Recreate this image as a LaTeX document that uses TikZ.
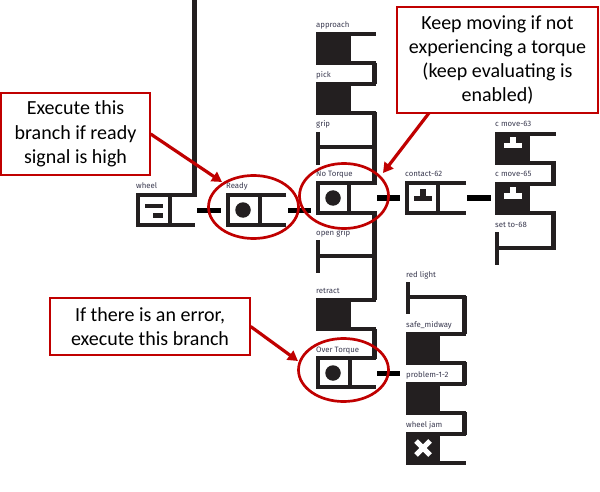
\documentclass[tikz,border=0pt]{standalone}
\usepackage{fontspec}
\setmainfont{Carlito}
\newfontfamily\labfont{Fira Sans}
\usetikzlibrary{shapes.geometric,arrows.meta}
\definecolor{ink}{HTML}{231F20}
\definecolor{redline}{HTML}{C00000}
\definecolor{labcol}{HTML}{3A3A50}
\tikzset{
  x=1pt,y=-1pt,
  stroke/.style={draw=ink,line width=4.4pt,line cap=butt,line join=miter},
  solid block/.style={fill=ink,draw=none},
  lab/.style={anchor=base west,inner sep=0pt,font=\labfont\fontsize{7.8}{9}\selectfont,text=labcol},
  wire/.style={draw=black,line width=5pt},
  callout/.style={draw=redline,line width=1.3pt,fill=white,align=center,inner sep=0pt,
    font=\fontsize{20}{24.3}\selectfont,text=black},
  loop/.style={shape=ellipse,draw=redline,line width=2.7pt,inner sep=0pt},
  pointer/.style={draw=redline,line width=3.2pt,-{Triangle[length=10pt,width=11pt]}},
  dot/.style={shape=circle,fill=ink,inner sep=0pt,minimum size=15.5pt},
}
% #1 left #2 top #3 divider #4 arm end #5 bottom (outer edges)
\newcommand{\openblock}[5]{%
  \draw[stroke] (#4,#2+2.2) -- (#1+2.2,#2+2.2) -- (#1+2.2,#5-2.2) -- (#4,#5-2.2);
  \draw[stroke] (#3,#2+2.2) -- (#3,#5-2.2);}
\newcommand{\fullblock}[5]{%
  \fill[solid block] (#1,#2) rectangle (#3,#5);
  \draw[stroke] (#3,#2+2.2) -- (#4,#2+2.2);
  \draw[stroke] (#3,#5-2.2) -- (#4,#5-2.2);}
% #1 left #2 top #3 bottom #4 arm y #5 arm end
\newcommand{\setblock}[5]{%
  \draw[stroke] (#1+2.2,#2) -- (#1+2.2,#3);
  \draw[stroke] (#1+2.2,#4) -- (#5,#4);}
% #1 x centre #2 y of base centre #3 colour
\newcommand{\tee}[3]{%
  \fill[#3] (#1-9,#2-2.5) rectangle (#1+9,#2+2.5);
  \fill[#3] (#1-3,#2-9) rectangle (#1+3,#2);}
\begin{document}
\begin{tikzpicture}
\useasboundingbox (0,0) rectangle (600,492);
\fill[white] (0,0) rectangle (600,492);

% trunks
\draw[stroke,line width=5pt] (194,0) -- (194,197);
\draw[stroke,line width=5pt] (374,63) -- (374,84);
\draw[stroke,line width=5pt] (374,112) -- (374,185);
\draw[stroke,line width=5pt] (374,211) -- (374,300);
\draw[stroke,line width=5pt] (374,329) -- (374,359);
\draw[stroke,line width=5pt] (464,296) -- (464,334);
\draw[stroke,line width=5pt] (464,362) -- (464,385);
\draw[stroke,line width=5pt] (464,412) -- (464,435);
\draw[stroke,line width=5pt] (553,162) -- (553,184);
\draw[stroke,line width=5pt] (553,212) -- (553,248);

% wheel
\openblock{136}{193}{170}{195}{227}
\fill[ink] (145,203.5) rectangle (163,208);
\fill[ink] (153,213) rectangle (163,218);
\node[lab] (wheel) at (136,189) {wheel};
% Ready
\openblock{226}{193}{260}{286}{227}
\node[dot] (readydot) at (243,210) {};
\node[lab] (ready) at (226,189) {Ready};
% No Torque
\openblock{316}{181}{349}{376}{215}
\node[dot] (notorquedot) at (333,198) {};
\node[lab] (notorque) at (316,177) {No Torque};
% contact-62
\openblock{405}{181}{438}{466}{215}
\tee{423}{198.5}{ink}
\node[lab] (contact) at (405,177) {contact-62};
% Over Torque
\openblock{316}{356}{350}{376}{389}
\node[dot] (overdot) at (333,373) {};
\node[lab] (over) at (316,352) {Over Torque};

% centre column
\fullblock{316}{32}{351}{376}{65}
\node[lab] (approach) at (316,28) {approach};
\fullblock{316}{82}{351}{376}{115}
\node[lab] (pick) at (316,78) {pick};
\setblock{316}{132}{165}{147}{376}
\node[lab] (grip) at (316,127) {grip};
\setblock{316}{240}{273}{256}{376}
\node[lab] (opengrip) at (316,235) {open grip};
\fullblock{316}{298}{351}{376}{331}
\node[lab] (retract) at (316,293) {retract};

% lower right column
\setblock{406}{282}{314}{297}{466}
\node[lab] (redlight) at (406,277) {red light};
\fullblock{406}{332}{440}{466}{365}
\node[lab] (safe) at (406,327) {safe\_midway};
\fullblock{406}{382}{440}{466}{415}
\node[lab] (problem) at (406,377) {problem-1-2};
\fullblock{406}{432}{440}{466}{465}
\draw[white,line width=5pt] (416,441) -- (430,455) (430,441) -- (416,455);
\node[lab] (wheeljam) at (406,427) {wheel jam};

% upper right column
\fullblock{495}{132}{530}{556}{165}
\tee{513}{146}{white}
\node[lab] (cmove63) at (495,127) {c move-63};
\fullblock{495}{182}{530}{556}{215}
\tee{513}{196}{white}
\node[lab] (cmove65) at (495,177) {c move-65};
\setblock{495}{232}{265}{248}{556}
\node[lab] (setto) at (495,227) {set to-68};

% connectors
\coordinate (w1) at (197,210.5); \coordinate (w2) at (221,210.5);
\coordinate (w3) at (288,210.5); \coordinate (w4) at (311,210.5);
\coordinate (w5) at (377,198);   \coordinate (w6) at (400,198);
\coordinate (w7) at (467,198);   \coordinate (w8) at (491,198);
\coordinate (w9) at (377,373);   \coordinate (w10) at (400,373);
\draw[wire] (w1) -- (w2);
\draw[wire] (w3) -- (w4);
\draw[wire] (w5) -- (w6);
\draw[wire] (w7) -- (w8);
\draw[wire] (w9) -- (w10);

% red loops
\node[loop,minimum width=90pt,minimum height=63pt] (loopready) at (253.5,207) {};
\node[loop,minimum width=89pt,minimum height=65pt] (loopno) at (344,196) {};
\node[loop,minimum width=90pt,minimum height=63pt] (loopover) at (343.5,370) {};

% callouts
\node[callout,minimum width=149pt,minimum height=82pt] (note1) at (75.5,134)
  {Execute this\\branch if ready\\signal is high};
\node[callout,minimum width=201pt,minimum height=106pt] (note2) at (497.5,60)
  {Keep moving if not\\experiencing a torque\\(keep evaluating is\\enabled)};
\node[callout,minimum width=200pt,minimum height=57pt] (note3) at (150,326.5)
  {If there is an error,\\execute this branch};

\coordinate (t1) at (222,182);
\coordinate (t2) at (383,173);
\coordinate (t3) at (298,361);
\coordinate (s2) at (429,113);
\draw[pointer] (note1.east) -- (t1);
\draw[pointer] (s2) -- (t2);
\draw[pointer] (note3.east) -- (t3);
\end{tikzpicture}
\end{document}
